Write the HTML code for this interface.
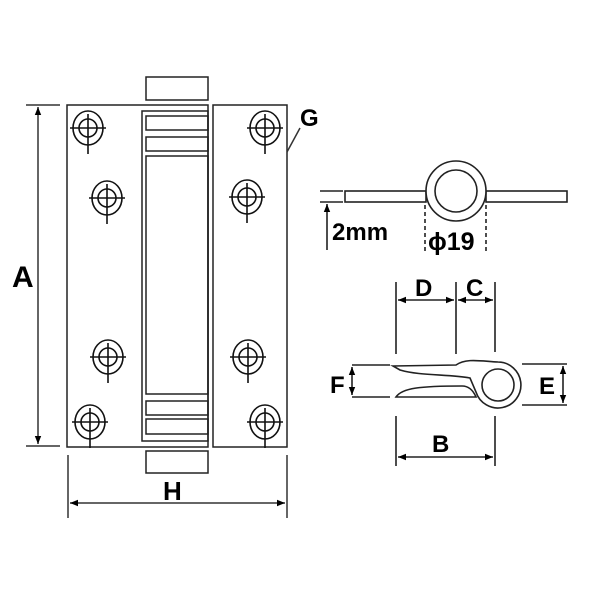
<!DOCTYPE html>
<html><head><style>body{margin:0;background:#fff}svg{display:block}</style></head><body>
<svg width="600" height="600" viewBox="0 0 600 600" xmlns="http://www.w3.org/2000/svg">
<defs>
<marker id="ar" viewBox="0 0 10 10" refX="10" refY="5" markerWidth="8" markerHeight="8" orient="auto-start-reverse" markerUnits="userSpaceOnUse"><path d="M0,1 L10,5 L0,9 z" fill="#000"/></marker>
</defs>
<g fill="none" stroke="#222" stroke-width="1.5">
<rect x="146" y="77" width="62" height="23"/>
<rect x="146" y="451" width="62" height="22"/>
<rect x="67" y="105" width="141" height="342"/>
<rect x="213" y="105" width="74" height="342"/>
<rect x="142" y="111" width="66" height="330"/>
<rect x="146" y="116" width="62" height="14"/>
<rect x="146" y="137" width="62" height="14"/>
<rect x="146" y="156" width="62" height="238"/>
<rect x="146" y="401" width="62" height="14"/>
<rect x="146" y="419" width="62" height="15"/>
</g>
<g fill="none" stroke="#111" stroke-width="1.6">
<g transform="translate(88,128)"><ellipse rx="15" ry="17"/><circle r="9"/><path d="M-18,0H18M0,-14V26"/></g>
<g transform="translate(107,198)"><ellipse rx="15" ry="17"/><circle r="9"/><path d="M-18,0H18M0,-14V26"/></g>
<g transform="translate(108,357)"><ellipse rx="15" ry="17"/><circle r="9"/><path d="M-18,0H18M0,-14V26"/></g>
<g transform="translate(90,422)"><ellipse rx="15" ry="17"/><circle r="9"/><path d="M-18,0H18M0,-14V26"/></g>
<g transform="translate(265,128)"><ellipse rx="15" ry="17"/><circle r="9"/><path d="M-18,0H18M0,-14V26"/></g>
<g transform="translate(247,197)"><ellipse rx="15" ry="17"/><circle r="9"/><path d="M-18,0H18M0,-14V26"/></g>
<g transform="translate(248,357)"><ellipse rx="15" ry="17"/><circle r="9"/><path d="M-18,0H18M0,-14V26"/></g>
<g transform="translate(265,422)"><ellipse rx="15" ry="17"/><circle r="9"/><path d="M-18,0H18M0,-14V26"/></g>
</g>
<g stroke="#333" stroke-width="1.5" fill="none">
<path d="M26,105H60M26,446H60"/>
<line x1="38" y1="107" x2="38" y2="444" marker-start="url(#ar)" marker-end="url(#ar)"/>
<path d="M68,455V518M287,455V518"/>
<line x1="70" y1="503" x2="285" y2="503" marker-start="url(#ar)" marker-end="url(#ar)"/>
<path d="M300,128L287,152"/>
</g>
<g font-family="Liberation Sans, sans-serif" font-weight="bold" fill="#000">
<text x="12" y="287" font-size="30">A</text>
<text x="163" y="500" font-size="26">H</text>
<text x="300" y="126" font-size="24">G</text>
<text x="332" y="240" font-size="24">2mm</text>
<text x="428" y="250" font-size="25">ϕ19</text>
<text x="415" y="296" font-size="24">D</text>
<text x="466" y="296" font-size="24">C</text>
<text x="330" y="393" font-size="24">F</text>
<text x="539" y="394" font-size="24">E</text>
<text x="432" y="452" font-size="24">B</text>
</g>
<g fill="none" stroke="#222" stroke-width="1.6">
<path d="M320,191H343M320,202H343"/>
<rect x="345" y="191" width="81" height="11"/>
<rect x="486" y="191" width="81" height="11"/>
<circle cx="456" cy="191" r="30" fill="#fff"/>
<circle cx="456" cy="191" r="21"/>
<path d="M425,205V252M486,205V252" stroke-dasharray="4,3"/>
<line x1="327" y1="250" x2="327" y2="204" marker-end="url(#ar)"/>
</g>
<g fill="none" stroke="#222" stroke-width="1.6">
<path d="M396,282V354M456,282V354M495,282V352"/>
<line x1="398" y1="300" x2="454" y2="300" marker-start="url(#ar)" marker-end="url(#ar)"/>
<line x1="458" y1="300" x2="493" y2="300" marker-start="url(#ar)" marker-end="url(#ar)"/>
<path d="M393,366 L456,365 C466,358 480,361 498,362 A23,23 0 1 1 476,392 L470,378 C450,374 420,376 400,370 Z"/>
<path d="M396,397 C402,388 420,386 462,386 C468,386 473,390 476,397 Z"/>
<circle cx="498" cy="385" r="16"/>
<path d="M352,365H390M352,397H390"/>
<line x1="352" y1="367" x2="352" y2="395" marker-start="url(#ar)" marker-end="url(#ar)"/>
<path d="M522,364H567M522,405H567"/>
<line x1="563" y1="366" x2="563" y2="403" marker-start="url(#ar)" marker-end="url(#ar)"/>
<path d="M396,416V466M495,416V466"/>
<line x1="398" y1="457" x2="493" y2="457" marker-start="url(#ar)" marker-end="url(#ar)"/>
</g>
</svg>
</body></html>
